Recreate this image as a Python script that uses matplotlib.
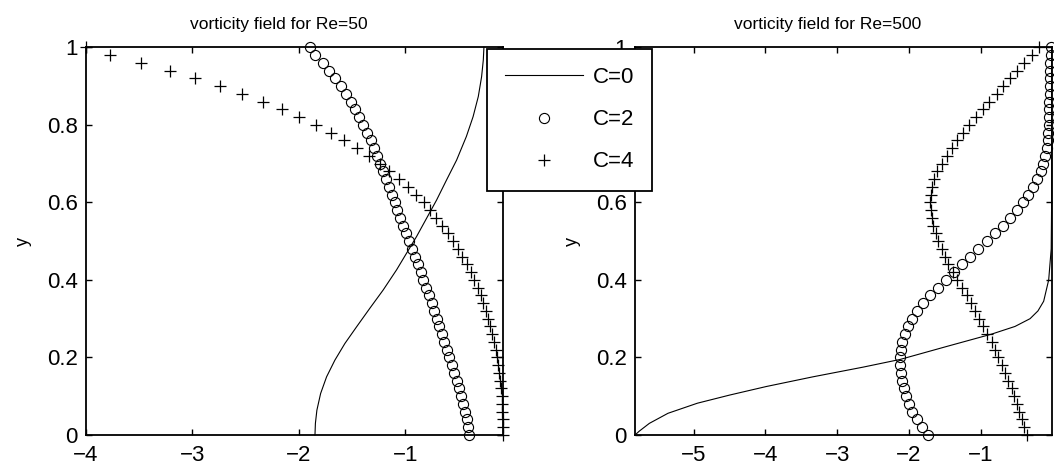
import numpy as np
import matplotlib
matplotlib.use("Agg")
import matplotlib.pyplot as plt
from matplotlib.ticker import MultipleLocator, FuncFormatter

plt.rcParams['font.family'] = ['Liberation Sans', 'DejaVu Sans']

# heights where the marker series are sampled
y_pts = [0.00, 0.02, 0.04, 0.06, 0.08, 0.10, 0.12, 0.14, 0.16, 0.18,
         0.20, 0.22, 0.24, 0.26, 0.28, 0.30, 0.32, 0.34, 0.36, 0.38,
         0.40, 0.42, 0.44, 0.46, 0.48, 0.50, 0.52, 0.54, 0.56, 0.58,
         0.60, 0.62, 0.64, 0.66, 0.68, 0.70, 0.72, 0.74, 0.76, 0.78,
         0.80, 0.82, 0.84, 0.86, 0.88, 0.90, 0.92, 0.94, 0.96, 0.98, 1.00]

# ---- Re=50 ----
re50_c0_y = [0.0, 0.030, 0.064, 0.107, 0.150, 0.193, 0.236, 0.279, 0.327, 0.374,
             0.426, 0.469, 0.512, 0.559, 0.606, 0.658, 0.709, 0.770, 0.821, 0.873,
             0.924, 0.967, 1.0]
re50_c0_x = [-1.848, -1.844, -1.830, -1.795, -1.739, -1.661, -1.567, -1.457, -1.332, -1.207,
             -1.081, -0.987, -0.893, -0.799, -0.705, -0.611, -0.517, -0.425, -0.362, -0.313,
             -0.282, -0.266, -0.260]
re50_c2 = [-0.400, -0.406, -0.422, -0.438, -0.453, -0.472, -0.491, -0.516, -0.541, -0.563,
           -0.585, -0.610, -0.635, -0.657, -0.679, -0.704, -0.729, -0.751, -0.775, -0.803,
           -0.830, -0.855, -0.884, -0.908, -0.936, -0.961, -0.990, -1.020, -1.047, -1.074,
           -1.098, -1.127, -1.155, -1.182, -1.210, -1.237, -1.266, -1.294, -1.325, -1.360,
           -1.394, -1.431, -1.472, -1.513, -1.557, -1.607, -1.660, -1.713, -1.776, -1.848,
           -1.895]
re50_c4 = [-0.078, -0.081, -0.084, -0.087, -0.090, -0.094, -0.100, -0.107, -0.114, -0.124,
           -0.136, -0.149, -0.164, -0.181, -0.199, -0.219, -0.241, -0.265, -0.291, -0.320,
           -0.352, -0.386, -0.423, -0.464, -0.507, -0.553, -0.600, -0.654, -0.707, -0.763,
           -0.826, -0.900, -0.978, -1.060, -1.150, -1.237, -1.340, -1.450, -1.575, -1.700,
           -1.840, -1.995, -2.158, -2.333, -2.531, -2.738, -2.976, -3.210, -3.483, -3.774,
           -4.000]

# ---- Re=500 ----
re500_c0_y = [0.0, 0.010, 0.030, 0.056, 0.082, 0.103, 0.125, 0.150, 0.175, 0.195,
              0.228, 0.260, 0.280, 0.300, 0.320, 0.345, 0.400, 0.480, 0.600, 1.0]
re500_c0_x = [-5.82, -5.76, -5.62, -5.36, -4.95, -4.50, -3.99, -3.34, -2.64, -2.12,
              -1.48, -0.85, -0.52, -0.31, -0.20, -0.12, -0.05, -0.015, -0.009, -0.008]
re500_c2 = [-1.732, -1.811, -1.885, -1.951, -1.997, -2.044, -2.072, -2.091, -2.108, -2.118,
            -2.118, -2.108, -2.091, -2.058, -2.012, -1.951, -1.885, -1.802, -1.699, -1.592,
            -1.485, -1.373, -1.266, -1.150, -1.034, -0.917, -0.801, -0.694, -0.592, -0.498,
            -0.414, -0.335, -0.265, -0.209, -0.163, -0.125, -0.097, -0.079, -0.065, -0.055,
            -0.046, -0.041, -0.041, -0.041, -0.037, -0.037, -0.032, -0.032, -0.027, -0.023,
            -0.013]
re500_c4 = [-0.358, -0.395, -0.428, -0.460, -0.498, -0.535, -0.567, -0.614, -0.660, -0.707,
            -0.753, -0.800, -0.846, -0.907, -0.963, -1.018, -1.079, -1.139, -1.195, -1.265,
            -1.325, -1.390, -1.451, -1.497, -1.544, -1.591, -1.623, -1.660, -1.684, -1.698,
            -1.707, -1.698, -1.684, -1.651, -1.605, -1.544, -1.474, -1.404, -1.325, -1.241,
            -1.158, -1.065, -0.972, -0.879, -0.776, -0.683, -0.590, -0.497, -0.395, -0.288,
            -0.181]

titles = ["vorticity field for Re=50", "vorticity field for Re=500"]
labels = ["C=0", "C=2", "C=4"]

fig = plt.figure(figsize=(10.54, 4.75), dpi=100)
ax1 = fig.add_axes([86/1054, 40/475, 417.3/1054, 387.7/475])
ax2 = fig.add_axes([635/1054, 40/475, 416.7/1054, 387.7/475])


def draw_panel(ax, c0x, c0y, c2, c4, title):
    h0, = ax.plot(c0x, c0y, '-', color='k', lw=0.8, clip_on=False)
    h2, = ax.plot(c2, y_pts, 'o', mfc='none', mec='k', ms=7.3, mew=0.8, clip_on=False)
    h4, = ax.plot(c4, y_pts, '+', color='k', ms=8, mew=0.9, clip_on=False)
    allx = list(c0x) + list(c2) + list(c4)
    ax.set_xlim(min(allx), max(allx))
    ax.set_ylim(0, 1)
    ax.xaxis.set_major_locator(MultipleLocator(1))
    ax.yaxis.set_major_locator(MultipleLocator(0.2))
    ax.yaxis.set_major_formatter(FuncFormatter(lambda v, p: '%g' % round(v, 2)))
    ax.tick_params(direction='in', top=True, right=True, length=4, width=1,
                   labelsize=16, pad=6)
    ax.tick_params(axis='x', pad=7)
    for s in ax.spines.values():
        s.set_linewidth(1.3)
    ax.set_title(title, fontsize=12.5, x=0.462, pad=13)
    ax.set_ylabel('y', fontsize=13)
    ax.yaxis.set_label_coords(-0.13, 0.5)
    return h0, h2, h4


handles = draw_panel(ax1, re50_c0_x, re50_c0_y, re50_c2, re50_c4, titles[0])
draw_panel(ax2, re500_c0_x, re500_c0_y, re500_c2, re500_c4, titles[1])

leg = fig.legend(handles, labels, loc='upper left', bbox_to_anchor=(486.7/1054, 426/475),
                 borderaxespad=0, fontsize=16, handlelength=3.5, handletextpad=0.45,
                 borderpad=0.82, labelspacing=0.95, fancybox=False, framealpha=1,
                 edgecolor='k')
leg.get_frame().set_linewidth(1.3)

fig.savefig('out.png', dpi=100)
